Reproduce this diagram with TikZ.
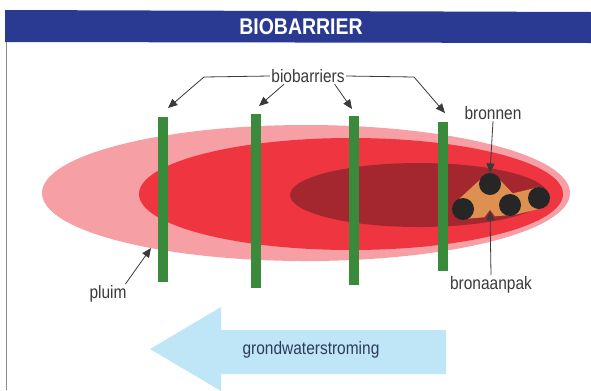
\documentclass[tikz,border=0pt]{standalone}
\usepackage{fontspec}
\setmainfont{Liberation Sans}[FakeStretch=0.86]
\usetikzlibrary{arrows.meta}
\definecolor{hdrblue}{HTML}{2A3A92}
\definecolor{plumelight}{HTML}{F6A0A6}
\definecolor{plumemid}{HTML}{EE3540}
\definecolor{plumedark}{HTML}{A4262E}
\definecolor{barriergreen}{HTML}{3A8A3C}
\definecolor{patchorange}{HTML}{DE9050}
\definecolor{flowblue}{HTML}{BFE6F6}
\definecolor{txtgray}{HTML}{3A3A3A}
\definecolor{flowtxt}{HTML}{2E3A5C}
\tikzset{
  barrier/.style={fill=barriergreen, draw=none, minimum width=6.8pt, minimum height={0.75pt*#1}, inner sep=0},
  well/.style={circle, fill=black!85, draw=none, minimum size=16.5pt, inner sep=0},
  lbl/.style={font=\fontsize{13.5}{15}\selectfont, text=txtgray, inner sep=1},
  pointer/.style={draw=txtgray, line width=0.6, -{Triangle[length=7,width=6]}}
}
\begin{document}
\begin{tikzpicture}[x=0.75pt,y=-0.75pt]
\useasboundingbox (0,0) rectangle (591,390);
\fill[white] (0,0) rectangle (591,390);
% header
\fill[hdrblue] (5,10) -- (591,12) -- (591,43) -- (5,42) -- cycle;
\node[font=\bfseries\fontsize{17}{19}\selectfont, text=white] (title) at (301,27) {BIOBARRIER};
\draw[black!45, line width=0.6] (6,42) -- (6,390);
% plume
\fill[plumelight] (306,193) ellipse [x radius=264, y radius=68];
\fill[plumemid] (351,194) ellipse [x radius=212, y radius=56];
\fill[plumedark] (419,195) ellipse [x radius=129, y radius=32];
% source patch
\coordinate (p1) at (490,184);
\coordinate (p2) at (463,209);
\coordinate (p3) at (510,205);
\coordinate (p4) at (539,198);
\fill[patchorange, line join=round, draw=patchorange, line width=15] (p1) -- (p2) -- (p3) -- cycle;
\draw[patchorange, line width=16, line cap=round] (p3) -- (p4);
\fill[plumedark] (484,218) -- (496,218) -- (490,210) -- cycle;
\node[well] (w1) at (p1) {};
\node[well] (w2) at (p2) {};
\node[well] (w3) at (p3) {};
\node[well] (w4) at (p4) {};
% barriers
\node[barrier=165, anchor=north] (b1) at (163,117) {};
\node[barrier=174, anchor=north] (b2) at (256,114) {};
\node[barrier=169, anchor=north] (b3) at (354,116) {};
\node[barrier=149, anchor=north] (b4) at (443,122) {};
% labels
\node[lbl] (bio) at (308,76) {biobarriers};
\node[lbl] (bron) at (493,113) {bronnen};
\node[lbl] (aanpak) at (491,285) {bronaanpak};
\node[lbl] (pluim) at (108,294) {pluim};
\coordinate (t1) at (168,108);
\coordinate (t2) at (259,106);
\coordinate (t3) at (352,109);
\coordinate (t4) at (445,113);
\draw[pointer] (bio.west) -- (204,77) -- (t1);
\draw[pointer] ([xshift=-18]bio.south) -- (t2);
\draw[pointer] ([xshift=20]bio.south) -- (t3);
\draw[pointer] (bio.east) -- (414,77) -- (t4);
\draw[pointer] (bron.south) -- (w1.north);
\draw[pointer] (aanpak.north) -- (490,211);
\coordinate (pl) at (151,248);
\draw[pointer] ([xshift=-2]pluim.north east) -- (pl);
% flow arrow
\fill[flowblue] (150,349) -- (221,307) -- (221,330) -- (446,330) -- (446,374) -- (221,374) -- (221,391) -- cycle;
\node[font=\fontsize{13.5}{15}\selectfont, text=flowtxt] (flow) at (311,350) {grondwaterstroming};
\end{tikzpicture}
\end{document}
